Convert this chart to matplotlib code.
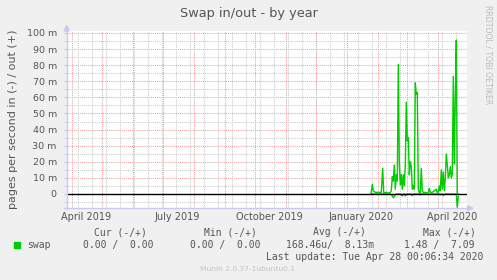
import datetime as dt
import matplotlib
matplotlib.use('Agg')
from matplotlib import pyplot as plt
from matplotlib.patches import Polygon, Rectangle
from matplotlib.lines import Line2D

W, H = 497, 280
start = dt.date(2019, 3, 25)   # left edge of the 400 day window

# days since start, swap out (+) and swap in (-), both in milli pages/s
swap_days = [305.7, 307, 308, 310, 313, 316, 317.4, 318.4, 321, 323, 325, 326,
             327, 328, 329, 330, 331, 332, 333, 334, 335, 336, 337, 338, 339,
             340, 341, 342, 343, 344, 345, 346, 347, 348, 349, 350, 351, 352,
             353, 354, 355, 356, 357, 358, 360, 362, 363, 364, 365, 367, 369,
             371, 372, 373, 374, 375, 376, 377, 378, 379, 380, 381, 382, 383,
             384, 385, 386, 387, 388, 389, 390, 391, 392, 393]
swap_out_m = [0, 6, 2, 1, 1, 1, 16, 0.5, 1, 0.5, 1, 2,
              10.8, 8, 18, 3, 12, 8, 80.5, 20, 5.6, 12, 3, 12, 5,
              18, 57, 33, 35, 12, 20, 17, 3, 5, 3, 69, 62, 63,
              3, 1, 0.5, 16, 2, 1, 1, 0.5, 1, 3.5, 1, 1, 2,
              3, 1, 1, 5, 2, 15, 3, 13.6, 2, 10, 24.8, 18, 10,
              12, 17, 10, 12, 73, 18.6, 60, 95.6, 0, 0]
swap_in_m = [0, 0, 0, 0, 0, 0, 0, 0, 0, 0, 0, 0.5,
             1, 2.3, 1.5, 0.5, 0, 0, 0, 0, 0, 0.5, 1.2, 0, 0,
             1.2, 0, 0, 0, 0, 0, 0, 1, 0, 0, 0, 0, 0,
             0, 0, 0.5, 0, 0, 0, 0, 0, 0, 0, 0, 0, 0,
             0, 0, 0, 0, 0.5, 0, 0, 1, 0, 0, 0, 0, 0,
             0, 0, 0, 0, 0, 0, 0, 0, 8.3, 1.5]

y_ticks = [0, 10, 20, 30, 40, 50, 60, 70, 80, 90, 100]
x_labels = ['April 2019', 'July 2019', 'October 2019', 'January 2020', 'April 2020']
x_label_dates = [dt.date(2019, 4, 15), dt.date(2019, 7, 15), dt.date(2019, 10, 15),
                 dt.date(2020, 1, 15), dt.date(2020, 4, 15)]

legend_head = ['Cur (-/+)', 'Min (-/+)', 'Avg (-/+)', 'Max (-/+)']
legend_vals = ['0.00 /  0.00', '0.00 /  0.00', '168.46u/  8.13m', '1.48 /  7.09']
last_update = 'Last update: Tue Apr 28 00:06:34 2020'


def day(d):
    return (d - start).days


def fx(x):
    return x / W


def fy(y):
    return 1 - y / H


GREEN = '#00CC00'
TXT = '#555555'
AXC = '#C8C8F0'

fig = plt.figure(figsize=(W / 100, H / 100), dpi=100, facecolor='#F0F0F0')
ax = fig.add_axes([fx(66.5), fy(208), (467 - 66.5) / W, (208 - 31) / H])
ax.set_facecolor('white')
ax.set_xlim(1.2, 401.7)
ax.set_ylim(-8.7, 101.2)
for s in ax.spines.values():
    s.set_visible(False)

dot = (0, (1, 1))
# horizontal grid: minor every 5 m, major every 10 m
for v in range(-5, 101, 5):
    if v == 0:
        continue
    col = '#F4A0A0' if v % 10 == 0 else '#CCCCCC'
    ax.axhline(v, color=col, lw=0.75, ls=dot, zorder=1)

# vertical grid: month starts red, every two weeks gray
d = dt.date(2019, 4, 7)
while d < dt.date(2020, 5, 1):
    ax.axvline(day(d), color='#CCCCCC', lw=0.75, ls=dot, zorder=1)
    d += dt.timedelta(days=14)
for y in (2019, 2020):
    for m in range(1, 13):
        md = dt.date(y, m, 1)
        if start < md < dt.date(2020, 4, 30):
            ax.axvline(day(md), color='#F4A0A0', lw=0.75, ls=dot, zorder=1)

ax.plot(swap_days, swap_out_m, color=GREEN, lw=1.0, zorder=3)
ax.plot(swap_days, [-v for v in swap_in_m], color=GREEN, lw=1.0, zorder=3)
ax.axhline(0, color='black', lw=1.0, zorder=4)

ax.set_yticks(y_ticks)
ax.set_yticklabels(['%d m' % v if v else '0' for v in y_ticks])
ax.set_yticks(range(-5, 101, 5), minor=True)
ax.tick_params(axis='y', which='both', length=2, color=AXC, pad=5,
               labelsize=6.8, labelcolor=TXT)
ax.set_xticks([day(d) for d in x_label_dates])
ax.set_xticklabels(x_labels)
ax.tick_params(axis='x', length=0, pad=3, labelsize=7, labelcolor=TXT)

# axis lines with arrows
fig.add_artist(Line2D([fx(66.7), fx(66.7)], [fy(208.5), fy(29)], color=AXC, lw=1))
fig.add_artist(Line2D([fx(64), fx(469)], [fy(208.3), fy(208.3)], color=AXC, lw=1))
fig.add_artist(Polygon([(fx(64.2), fy(31)), (fx(69.2), fy(31)), (fx(66.7), fy(25.5))],
                       closed=True, color=AXC))
fig.add_artist(Polygon([(fx(467.5), fy(205.8)), (fx(467.5), fy(210.8)), (fx(473), fy(208.3))],
                       closed=True, color=AXC))

fig.text(0.5, fy(13.5), 'Swap in/out - by year', ha='center', va='center',
         fontsize=9.3, color=TXT)
fig.text(fx(13), fy(119), 'pages per second in (-) / out (+)', rotation=90,
         ha='center', va='center', fontsize=8.0, color=TXT)
fig.text(fx(488), fy(5), 'RRDTOOL / TOBI OETIKER', rotation=270, ha='center',
         va='top', fontsize=5.6, color='#BBBBBB')

mono = 'DejaVu Sans Mono'
head_x = [94, 204, 313, 423]
val_x = [83, 190, 286, 404]
for t, x in zip(legend_head, head_x):
    fig.text(fx(x), fy(232.3), t, family=mono, fontsize=7.05, color=TXT,
             ha='left', va='center')
for t, x in zip(legend_vals, val_x):
    fig.text(fx(x), fy(245), t, family=mono, fontsize=7.05, color=TXT,
             ha='left', va='center')
fig.add_artist(Rectangle((fx(14), fy(248.3)), 6 / W, 6 / H, color=GREEN))
fig.text(fx(27), fy(245), 'swap', family=mono, fontsize=7.05, color=TXT,
         ha='left', va='center')
fig.text(fx(483), fy(256.7), last_update, family=mono, fontsize=7.05, color=TXT,
         ha='right', va='center')
fig.text(fx(248), fy(269), 'Munin 2.0.37-1ubuntu0.1', ha='center', va='center',
         fontsize=5.4, color='#C4C4C4')

fig.savefig('out.png', dpi=100, facecolor=fig.get_facecolor())
